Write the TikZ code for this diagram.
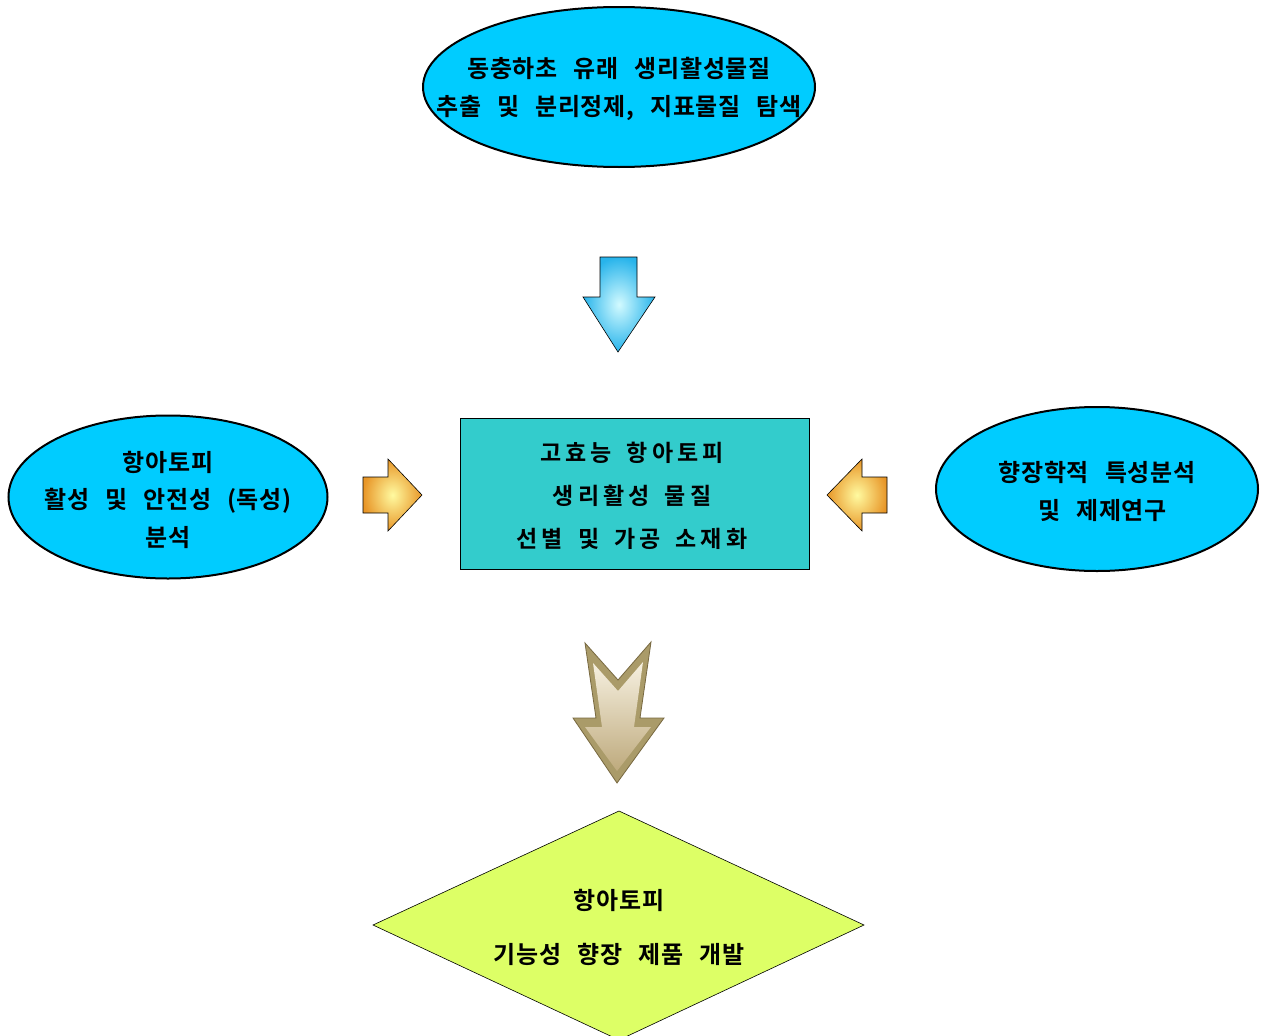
\documentclass[tikz,border=0pt]{standalone}
\usepackage{fontspec}
\usetikzlibrary{shapes.geometric}
\newfontfamily\krell{Noto Sans CJK KR}[BoldFont={Noto Sans CJK KR Bold},WordSpace=2.6,LetterSpace=3]
\newfontfamily\krbox{Noto Sans CJK KR}[BoldFont={Noto Sans CJK KR Bold},LetterSpace=18,WordSpace=1.6]
\definecolor{ellcyan}{RGB}{0,204,255}
\definecolor{boxteal}{RGB}{51,204,204}
\definecolor{lime}{RGB}{221,255,102}
\definecolor{bluelight}{RGB}{210,250,255}
\definecolor{bluedark}{RGB}{40,180,235}
\definecolor{orlight}{RGB}{255,250,160}
\definecolor{ordark}{RGB}{232,150,40}
\definecolor{tanouter}{RGB}{170,155,105}
\definecolor{tanedge}{RGB}{120,105,65}
\definecolor{tantop}{RGB}{246,240,224}
\definecolor{tanbot}{RGB}{190,170,125}
\tikzset{
  ellshape/.style={ellipse, draw=black, line width=2pt, fill=ellcyan, inner sep=0pt},
  elltext/.style={align=center, inner sep=0pt, font=\krell\bfseries\fontsize{24}{37.5}\selectfont},
  mainbox/.style={rectangle, draw=black, line width=0.8pt, fill=boxteal, inner sep=0pt},
  boxtext/.style={align=center, inner sep=0pt, font=\krbox\bfseries\fontsize{23}{43}\selectfont},
  blockarrow/.style={draw=black, line width=0.6pt},
}
\begin{document}
\begin{tikzpicture}[x=1pt,y=-1pt]
\useasboundingbox (0,0) rectangle (1261,1036);
\fill[white] (0,0) rectangle (1261,1036);

% shapes
\node[ellshape, minimum width=392pt, minimum height=160pt] (src) at (619,87) {};
\node[ellshape, minimum width=319pt, minimum height=163pt] (safety) at (168,497) {};
\node[ellshape, minimum width=322pt, minimum height=164pt] (aroma) at (1097,489) {};
\node[mainbox, minimum width=349pt, minimum height=151pt] (core) at (634.5,493.5) {};
\path[draw=black, line width=0.6pt, fill=lime]
  (373,925) coordinate (dl) -- (619,811) coordinate (dt) -- (864,925) coordinate (dr) -- (619,1040) coordinate (db) -- cycle;

% texts
\node[elltext] (srctext) at (619,89)
  {동충하초 유래 생리활성물질\\추출 및 분리정제, 지표물질 탐색};
\node[elltext] (safetytext) at (168,499.5)
  {항아토피\\활성 및 안전성 (독성)\\분석};
\node[elltext] (aromatext) at (1097,491.5)
  {향장학적 특성분석\\\hspace*{11pt}및 제제연구};
\node[boxtext] (coretext) at (632,495.5)
  {고효능 항아토피\\생리활성 물질\\선별 및 가공 소재화};
\node[elltext, font=\krell\bfseries\fontsize{24}{54}\selectfont] (product) at (619,927)
  {항아토피\\기능성 향장 제품 개발};

% blue down arrow
\path[blockarrow, inner color=bluelight, outer color=bluedark, shade]
  (600,257) -- (637,257) -- (637,297) -- (655,297) -- (618,352) -- (583,297) -- (600,297) -- cycle;

% orange right arrow
\path[blockarrow, inner color=orlight, outer color=ordark, shade]
  (363,477) -- (388,477) -- (388,459) -- (422,495) -- (388,531) -- (388,513) -- (363,513) -- cycle;

% orange left arrow
\path[blockarrow, inner color=orlight, outer color=ordark, shade]
  (887,477) -- (862,477) -- (862,459) -- (827,495) -- (862,531) -- (862,513) -- (887,513) -- cycle;

% tan down arrow
\path[draw=tanedge, line width=0.8pt, fill=tanouter]
  (585,643) -- (618,680) -- (651,642) -- (640,718) -- (664,718) -- (617,783) -- (573,718) -- (596,718) -- cycle;
\path[top color=tantop, bottom color=tanbot, shade]
  (593,663) -- (618,691) -- (643,662) -- (634,727) -- (651,727) -- (617,771) -- (585,727) -- (602,727) -- cycle;
\end{tikzpicture}
\end{document}
